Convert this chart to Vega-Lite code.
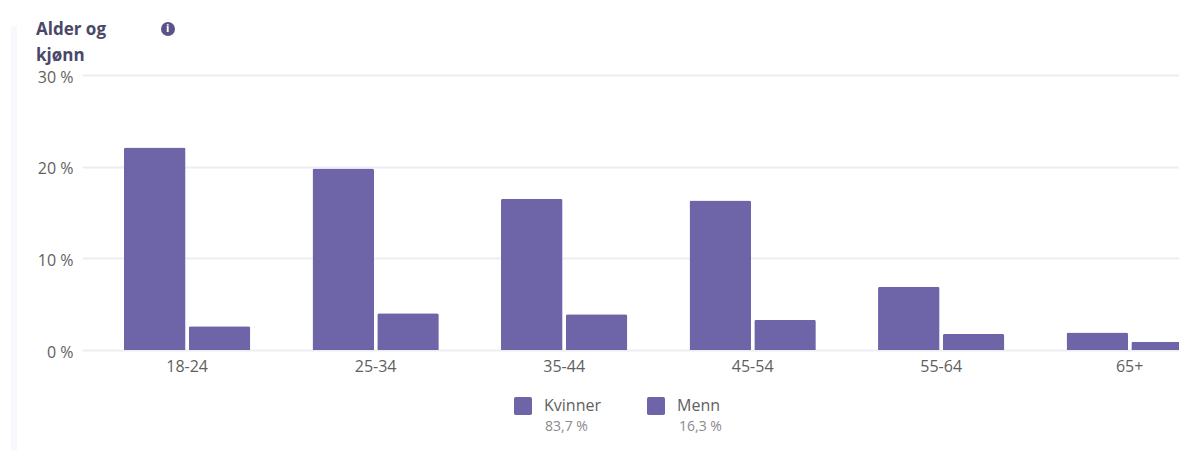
{"$schema":"https://vega.github.io/schema/vega-lite/v6.json","width":1097,"height":275,"autosize":"none","padding":{"left":82,"top":75,"right":0,"bottom":101},"background":"white","config":{"font":"Open Sans","view":{"stroke":null}},"title":{"text":["Alder og","kjønn"],"anchor":"start","frame":"group","dx":-46,"dy":65,"fontSize":17,"fontWeight":"bold","color":"#4a4868","lineHeight":26,"baseline":"alphabetic","offset":8},"datasets":{"bars":[{"a":"18-24","g":"Kvinner","share":"83,7 %","v":22.1},{"a":"18-24","g":"Menn","share":"16,3 %","v":2.6},{"a":"25-34","g":"Kvinner","share":"83,7 %","v":19.8},{"a":"25-34","g":"Menn","share":"16,3 %","v":4.0},{"a":"35-44","g":"Kvinner","share":"83,7 %","v":16.5},{"a":"35-44","g":"Menn","share":"16,3 %","v":3.9},{"a":"45-54","g":"Kvinner","share":"83,7 %","v":16.3},{"a":"45-54","g":"Menn","share":"16,3 %","v":3.3},{"a":"55-64","g":"Kvinner","share":"83,7 %","v":6.9},{"a":"55-64","g":"Menn","share":"16,3 %","v":1.75},{"a":"65+","g":"Kvinner","share":"83,7 %","v":1.9},{"a":"65+","g":"Menn","share":"16,3 %","v":0.9}],"notes":[{"note":"i"}],"edges":[{"edge":" "}]},"layer":[{"data":{"name":"bars"},"mark":{"type":"bar","cornerRadiusTopLeft":2,"cornerRadiusTopRight":2,"clip":false},"encoding":{"x":{"field":"a","type":"nominal","title":null,"scale":{"range":[0,1142],"paddingInner":0.33,"paddingOuter":0.194,"align":0.574},"axis":{"labelAngle":0,"domain":false,"ticks":false,"grid":false,"labelFontSize":16,"labelColor":"#5f5f5f","labelPadding":8}},"y":{"field":"v","type":"quantitative","title":null,"scale":{"domain":[0,30]},"axis":{"values":[0,10,20,30],"labelExpr":"datum.value + ' %'","domain":false,"ticks":false,"grid":true,"gridColor":"#eeeef2","gridWidth":2,"labelFontSize":16,"labelColor":"#5f5f5f","labelPadding":9,"labelOffset":2}},"xOffset":{"field":"g","scale":{"paddingInner":0.05}},"color":{"field":"g","type":"nominal","scale":{"range":["#6e64a8","#6e64a8"]},"legend":{"title":null,"orient":"none","legendX":432,"legendY":322,"direction":"horizontal","symbolType":"M-0.8,-1H0.8Q1,-1 1,-0.8V0.8Q1,1 0.8,1H-0.8Q-1,1 -1,0.8V-0.8Q-1,-1 -0.8,-1Z","symbolSize":324,"symbolStrokeWidth":0,"labelFontSize":16,"labelColor":"#5f5f5f","labelOffset":12,"columnPadding":46}},"opacity":{"field":"share","type":"nominal","scale":{"domain":["83,7 %","16,3 %"],"range":[1,1]},"legend":{"title":null,"orient":"none","legendX":432,"legendY":345,"direction":"horizontal","symbolSize":0,"labelFontSize":14,"labelColor":"#8a8a90","labelOffset":17,"columnPadding":60}}}},{"data":{"name":"notes"},"mark":{"type":"point","filled":true,"size":0},"encoding":{"color":{"field":"note","type":"nominal","scale":{"range":["#5b5288"]},"legend":{"title":null,"orient":"none","legendX":78,"legendY":-54,"symbolType":"circle","symbolSize":196,"symbolOpacity":1,"labelFontSize":11,"labelFontWeight":"bold","labelColor":"white","labelOffset":-10}}}},{"data":{"name":"edges"},"mark":{"type":"point","filled":true,"size":0},"encoding":{"color":{"field":"edge","type":"nominal","scale":{"range":["#f8f8fd"]},"legend":{"title":null,"orient":"none","legendX":-282,"legendY":-50,"symbolType":"M-0.014,-1H0.014V1H-0.014Z","symbolSize":181476,"symbolOpacity":1,"labelFontSize":1,"labelColor":"white"}}}}],"resolve":{"scale":{"color":"independent"},"legend":{"color":"independent"}}}
